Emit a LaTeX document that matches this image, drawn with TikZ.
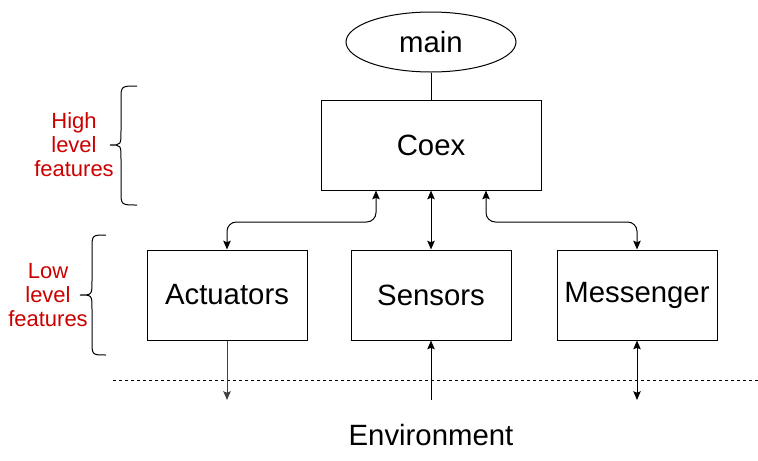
\documentclass[tikz,border=0pt]{standalone}
\usepackage{fontspec}
\setmainfont{Liberation Sans}
\usepackage{xcolor}
\usetikzlibrary{arrows.meta,shapes.geometric}
\definecolor{featred}{RGB}{204,0,0}

\begin{document}
\begin{tikzpicture}[x=0.75pt,y=0.75pt,yscale=-1,xscale=1,
    every path/.style={line width=0.75pt},
    box/.style={draw,minimum width=120pt,minimum height=67.5pt,inner sep=0pt,font=\fontsize{22}{26}\selectfont},
    ell/.style={draw,ellipse,minimum width=127.5pt,minimum height=45pt,inner sep=0pt,font=\fontsize{22}{26}\selectfont},
    feat/.style={align=center,text=featred,font=\fontsize{16.5}{18}\selectfont},
    conn/.style={{Stealth[length=6.5pt,width=5.5pt,inset=1pt]}-{Stealth[length=6.5pt,width=5.5pt,inset=1pt]},rounded corners=7pt},
    env/.style={-{Stealth[length=6.5pt,width=5.5pt,inset=1pt]}}]
\useasboundingbox (0,0) rectangle (758,461);
                % blocks
                \node [ell] (main) at (431,42) {main};
                \node [box,minimum width=165pt] (coex) at (431,145) {Coex};
                \node [box] (act) at (227,295) {Actuators};
                \node [box] (sens) at (431,295) {Sensors};
                \node [box] (mess) at (637,295) {Messenger};
                \node [font=\fontsize{22}{26}\selectfont] (envt) at (431,435) {Environment};
                % labels on the left
                \node [feat] (high) at (74,145) {High\\level\\features};
                \node [feat] (low) at (48,295) {Low\\level\\features};
                % braces
                \draw (137,86) .. controls (121,86) .. (121,100) -- (121,131) .. controls (121,145) .. (110,145) .. controls (121,145) .. (121,159) -- (121,191) .. controls (121,205) .. (137,205);
                \draw (106,235) .. controls (92,235) .. (92,249) -- (92,281) .. controls (92,295) .. (80,295) .. controls (92,295) .. (92,309) -- (92,341) .. controls (92,355) .. (106,355);
                % links
                \coordinate (c1) at (376,222);
                \coordinate (c2) at (486,222);
                \draw (main) -- (coex);
                \draw [conn] (act.north) |- (c1) -- (c1 |- coex.south);
                \draw [conn] (sens.north) -- (coex.south);
                \draw [conn] (mess.north) |- (c2) -- (c2 |- coex.south);
                % environment
                \draw [dash pattern={on 2.25pt off 2.25pt}] (113,380) -- (758,380);
                \coordinate (e1) at (227,400);
                \coordinate (e2) at (431,400);
                \coordinate (e3) at (637,400);
                \draw [env,draw=black!75,fill=black] (act.south) -- (e1);
                \draw [env] (e2) -- (sens.south);
                \draw [conn] (mess.south) -- (e3);
\end{tikzpicture}
\end{document}
